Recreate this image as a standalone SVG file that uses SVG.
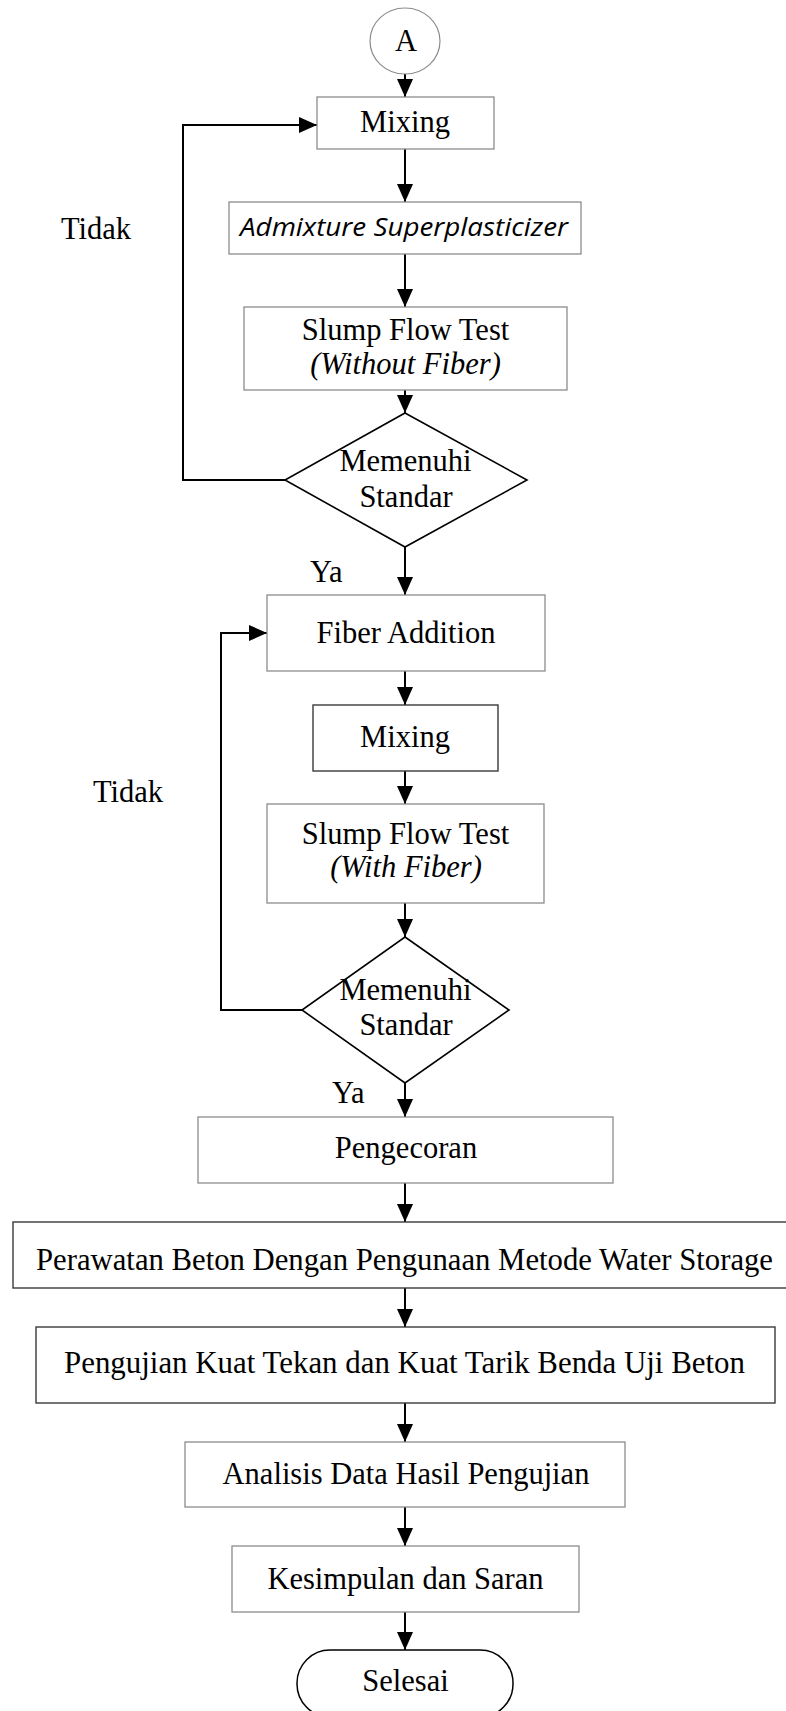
<svg xmlns="http://www.w3.org/2000/svg" width="786" height="1711" viewBox="0 0 786 1711">
<style>
  .t { font-family: "Liberation Serif", "Times New Roman", serif; font-size: 30.5px; fill: #000; }
  .c { text-anchor: middle; }
  .i { font-style: italic; }
  .sans { font-family: "Open Sans", "DejaVu Sans", sans-serif; font-size: 25.5px; font-style: italic; fill: #000; }
  .box { fill: #fff; stroke: #8c8c8c; stroke-width: 1.3; }
  .dark { fill: #fff; stroke: #3a3a3a; stroke-width: 1.4; }
  .dia { fill: #fff; stroke: #000; stroke-width: 1.6; }
  .ln { fill: none; stroke: #000; stroke-width: 2; }
</style>
<defs>
  <marker id="ah" markerUnits="userSpaceOnUse" markerWidth="18" markerHeight="16" refX="18" refY="8" orient="auto">
    <path d="M0,0 L18,8 L0,16 Z" fill="#000"/>
  </marker>
</defs>
<rect width="786" height="1711" fill="#fff"/>

<g id="connectors">
  <line class="ln" x1="405" y1="74" x2="405" y2="97" marker-end="url(#ah)"/>
  <line class="ln" x1="405" y1="149" x2="405" y2="202" marker-end="url(#ah)"/>
  <line class="ln" x1="405" y1="254" x2="405" y2="307" marker-end="url(#ah)"/>
  <line class="ln" x1="405" y1="390" x2="405" y2="413" marker-end="url(#ah)"/>
  <line class="ln" x1="405" y1="547" x2="405" y2="595" marker-end="url(#ah)"/>
  <line class="ln" x1="405" y1="671" x2="405" y2="705" marker-end="url(#ah)"/>
  <line class="ln" x1="405" y1="771" x2="405" y2="804" marker-end="url(#ah)"/>
  <line class="ln" x1="405" y1="903" x2="405" y2="937" marker-end="url(#ah)"/>
  <line class="ln" x1="405" y1="1083" x2="405" y2="1117" marker-end="url(#ah)"/>
  <line class="ln" x1="405" y1="1183" x2="405" y2="1222" marker-end="url(#ah)"/>
  <line class="ln" x1="405" y1="1288" x2="405" y2="1327" marker-end="url(#ah)"/>
  <line class="ln" x1="405" y1="1403" x2="405" y2="1442" marker-end="url(#ah)"/>
  <line class="ln" x1="405" y1="1507" x2="405" y2="1546" marker-end="url(#ah)"/>
  <line class="ln" x1="405" y1="1612" x2="405" y2="1650" marker-end="url(#ah)"/>
  <polyline class="ln" points="285,480 183,480 183,125 317,125" marker-end="url(#ah)"/>
  <polyline class="ln" points="302,1010 221,1010 221,633 267,633" marker-end="url(#ah)"/>
</g>

<g id="labels">
  <text class="t" x="61" y="239">Tidak</text>
  <text class="t" x="310" y="582">Ya</text>
  <text class="t" x="93" y="802">Tidak</text>
  <text class="t" x="332" y="1103">Ya</text>
</g>

<g id="start-A">
  <ellipse cx="405" cy="41" rx="35" ry="33" fill="#fff" stroke="#8c8c8c" stroke-width="1.2"/>
  <text class="t c" x="406" y="51">A</text>
</g>

<g id="mixing1">
  <rect class="box" x="317" y="97" width="177" height="52"/>
  <text class="t c" x="405" y="132">Mixing</text>
</g>

<g id="admixture">
  <rect class="box" x="229" y="202" width="352" height="52"/>
  <text class="sans c" x="404" y="236" textLength="328" lengthAdjust="spacingAndGlyphs">Admixture Superplasticizer</text>
</g>

<g id="slump1">
  <rect class="box" x="244" y="307" width="323" height="83"/>
  <text class="t c" x="405.5" y="340">Slump Flow Test</text>
  <text class="t c i" x="405.5" y="374">(Without Fiber)</text>
</g>

<g id="decision1">
  <polygon class="dia" points="405,413 527,480 405,547 285,480"/>
  <text class="t c" x="405.5" y="471">Memenuhi</text>
  <text class="t c" x="406" y="507">Standar</text>
</g>

<g id="fiber-addition">
  <rect class="box" x="267" y="595" width="278" height="76"/>
  <text class="t c" x="406" y="643">Fiber Addition</text>
</g>

<g id="mixing2">
  <rect class="dark" x="313" y="705" width="185" height="66"/>
  <text class="t c" x="405" y="747">Mixing</text>
</g>

<g id="slump2">
  <rect class="box" x="267" y="804" width="277" height="99"/>
  <text class="t c" x="405.5" y="844">Slump Flow Test</text>
  <text class="t c i" x="406" y="877">(With Fiber)</text>
</g>

<g id="decision2">
  <polygon class="dia" points="405,937 509,1010 405,1083 302,1010"/>
  <text class="t c" x="405.5" y="1000">Memenuhi</text>
  <text class="t c" x="406" y="1035">Standar</text>
</g>

<g id="pengecoran">
  <rect class="box" x="198" y="1117" width="415" height="66"/>
  <text class="t c" x="406" y="1158">Pengecoran</text>
</g>

<g id="perawatan">
  <rect class="dark" x="13" y="1222" width="775" height="66"/>
  <text class="t c" x="404.5" y="1270" textLength="737" lengthAdjust="spacingAndGlyphs">Perawatan Beton Dengan Pengunaan Metode Water Storage</text>
</g>

<g id="pengujian">
  <rect class="dark" x="36" y="1327" width="739" height="76"/>
  <text class="t c" x="404.5" y="1373" textLength="681" lengthAdjust="spacingAndGlyphs">Pengujian Kuat Tekan dan Kuat Tarik Benda Uji Beton</text>
</g>

<g id="analisis">
  <rect class="box" x="185" y="1442" width="440" height="65"/>
  <text class="t c" x="406" y="1484">Analisis Data Hasil Pengujian</text>
</g>

<g id="kesimpulan">
  <rect class="box" x="232" y="1546" width="347" height="66"/>
  <text class="t c" x="405.5" y="1589">Kesimpulan dan Saran</text>
</g>

<g id="selesai">
  <rect x="297" y="1650" width="216" height="67" rx="33" ry="33" fill="#fff" stroke="#000" stroke-width="1.5"/>
  <text class="t c" x="405.5" y="1691">Selesai</text>
</g>
</svg>
